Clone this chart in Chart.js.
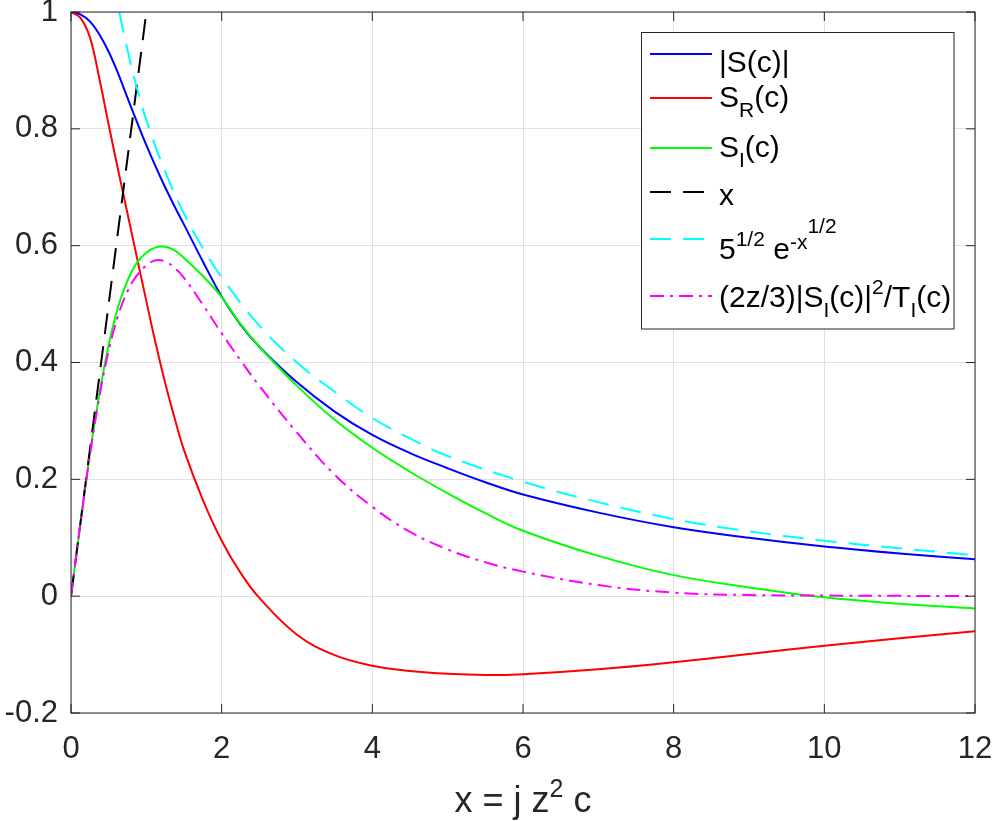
<!DOCTYPE html>
<html>
<head>
<meta charset="utf-8">
<script src="https://cdn.jsdelivr.net/npm/chart.js@4.4.1/dist/chart.umd.min.js"></script>
<style>
  html, body { margin: 0; padding: 0; background: #fff; }
  canvas { display: block; }
</style>
</head>
<body>
<canvas id="chartS" width="994" height="821"></canvas>
<script>
// values
const xs = [0, 0.125, 0.25, 0.375, 0.5, 0.625, 0.75, 0.875, 1, 1.125, 1.25, 1.375, 1.5, 1.75, 2, 2.25, 2.5, 3, 3.5, 4, 4.5, 5, 5.5, 6, 7, 8, 9, 10, 11, 12];
const absS = [1.0, 0.996, 0.984, 0.962, 0.932, 0.895, 0.853, 0.812, 0.772, 0.735, 0.700, 0.667, 0.636, 0.573, 0.513, 0.465, 0.427, 0.366, 0.316, 0.276, 0.245, 0.219, 0.195, 0.174, 0.143, 0.118, 0.100, 0.085, 0.073, 0.063];
const sR = [1.0, 0.99, 0.957, 0.887, 0.807, 0.73, 0.655, 0.58, 0.505, 0.432, 0.365, 0.305, 0.250, 0.165, 0.095, 0.040, -0.003, -0.066, -0.101, -0.119, -0.128, -0.133, -0.135, -0.1335, -0.125, -0.113, -0.099, -0.085, -0.072, -0.060];
const sI = [0, 0.124, 0.243, 0.345, 0.43, 0.495, 0.54, 0.571, 0.588, 0.597, 0.598, 0.592, 0.579, 0.548, 0.512, 0.466, 0.427, 0.36, 0.302, 0.254, 0.213, 0.176, 0.142, 0.112, 0.069, 0.036, 0.015, -0.002, -0.013, -0.021];
const ratio = [0, 0.124, 0.24, 0.34, 0.42, 0.48, 0.522, 0.549, 0.566, 0.575, 0.573, 0.562, 0.545, 0.499, 0.45, 0.404, 0.36, 0.28, 0.208, 0.153, 0.11, 0.080, 0.058, 0.042, 0.019, 0.006, 0.002, 0.001, 0.0005, 0.0005];
const lineX = [0, 1];
const lineY = [0, 1];
const asymX = [0.64, 0.75, 0.875, 1, 1.25, 1.5, 1.75, 2, 2.5, 3, 3.5, 4, 4.5, 5, 6, 7, 8, 9, 10, 11, 12];
const asymY = [1.0, 0.935, 0.87, 0.815, 0.727, 0.655, 0.596, 0.546, 0.463, 0.40, 0.35, 0.305, 0.27, 0.24, 0.196, 0.161, 0.132, 0.111, 0.095, 0.082, 0.070];

const xTicks = [0, 2, 4, 6, 8, 10, 12];
const yTicks = [-0.2, 0, 0.2, 0.4, 0.6, 0.8, 1];

const FONT = '"Liberation Sans", Helvetica, Arial, sans-serif';
const AX = '#262626';

function pts(x, y) { return x.map((v, i) => ({ x: v, y: y[i] })); }

// legend rows: segments [text, dy, size]
const legendRows = [
  { color: '#0000ff', dash: [], line: 54, base: 72, segs: [['|S(c)|', 0, 30]] },
  { color: '#ff0000', dash: [], line: 98, base: 107, segs: [['S', 0, 30], ['R', 10, 21], ['(c)', 0, 30]] },
  { color: '#00ff00', dash: [], line: 148, base: 157, segs: [['S', 0, 30], ['I', 10, 21], ['(c)', 0, 30]] },
  { color: '#000000', dash: [21, 12], line: 192, base: 205, segs: [['x', 0, 30]] },
  { color: '#00ffff', dash: [21, 12], line: 239, base: 259, segs: [['5', 0, 30], ['1/2', -13, 21], [' e', 0, 30], ['-x', -10, 21], ['1/2', -26, 21]] },
  { color: '#ff00ff', dash: [14, 6, 3, 6], line: 296, base: 307, segs: [['(2z/3)|S', 0, 30], ['I', 10, 21], ['(c)|', 0, 30], ['2', -13, 21], ['/T', 0, 30], ['I', 10, 21], ['(c)', 0, 30]] }
];
const xTitle = [['x = j z', 0, 36], ['2', -15, 25], [' c', 0, 36]];

function richWidth(ctx, segs) {
  let w = 0;
  segs.forEach(s => { ctx.font = s[2] + 'px ' + FONT; w += ctx.measureText(s[0]).width; });
  return w;
}
function drawRich(ctx, segs, x, base) {
  ctx.textAlign = 'left';
  ctx.textBaseline = 'alphabetic';
  segs.forEach(s => {
    ctx.font = s[2] + 'px ' + FONT;
    ctx.fillText(s[0], x, base + s[1]);
    x += ctx.measureText(s[0]).width;
  });
}

const decor = {
  id: 'decor',
  afterDatasetsDraw(chart) {
    const { ctx, chartArea: a, scales } = chart;
    ctx.save();
    ctx.strokeStyle = AX;
    ctx.lineWidth = 1;
    ctx.strokeRect(a.left, a.top, a.right - a.left, a.bottom - a.top);
    ctx.beginPath();
    xTicks.forEach(v => {
      const p = scales.x.getPixelForValue(v);
      ctx.moveTo(p, a.bottom); ctx.lineTo(p, a.bottom - 9);
      ctx.moveTo(p, a.top); ctx.lineTo(p, a.top + 9);
    });
    yTicks.forEach(v => {
      const p = scales.y.getPixelForValue(v);
      ctx.moveTo(a.left, p); ctx.lineTo(a.left + 9, p);
      ctx.moveTo(a.right, p); ctx.lineTo(a.right - 9, p);
    });
    ctx.stroke();
    ctx.restore();
  },
  afterDraw(chart) {
    const { ctx, chartArea: a } = chart;
    ctx.save();
    // legend box
    ctx.fillStyle = '#fff';
    ctx.fillRect(641.5, 32.5, 312.5, 296.5);
    ctx.strokeStyle = AX;
    ctx.lineWidth = 1;
    ctx.strokeRect(641.5, 32.5, 312.5, 296.5);
    legendRows.forEach(r => {
      ctx.strokeStyle = r.color;
      ctx.lineWidth = 2;
      ctx.setLineDash(r.dash);
      ctx.beginPath();
      ctx.moveTo(650, r.line);
      ctx.lineTo(712, r.line);
      ctx.stroke();
      ctx.setLineDash([]);
      ctx.fillStyle = '#000';
      drawRich(ctx, r.segs, 719, r.base);
    });
    // x axis title
    ctx.fillStyle = AX;
    const w = richWidth(ctx, xTitle);
    drawRich(ctx, xTitle, (a.left + a.right) / 2 - w / 2, 812);
    ctx.restore();
  }
};

function ds(data, color, dash, order) {
  return {
    data: data, borderColor: color, backgroundColor: color, borderWidth: 2,
    borderDash: dash, pointRadius: 0, fill: false, order: order,
    tension: 0.4
  };
}

new Chart(document.getElementById('chartS'), {
  type: 'line',
  data: {
    datasets: [
      ds(pts(xs, absS), '#0000ff', [], 6),
      ds(pts(xs, sR), '#ff0000', [], 5),
      ds(pts(xs, sI), '#00ff00', [], 4),
      ds(pts(lineX, lineY), '#000000', [21, 12], 3),
      ds(pts(asymX, asymY), '#00ffff', [21, 12], 2),
      ds(pts(xs, ratio), '#ff00ff', [14, 6, 3, 6], 1)
    ]
  },
  options: {
    responsive: false,
    animation: false,
    devicePixelRatio: 1,
    layout: { padding: { top: 12, right: 19, left: 0, bottom: 0 } },
    plugins: { legend: { display: false }, tooltip: { enabled: false } },
    scales: {
      x: {
        type: 'linear', min: 0, max: 12,
        afterFit: s => { s.height = 108; s.paddingLeft = 0; s.paddingRight = 0; },
        afterBuildTicks: s => { s.ticks = xTicks.map(v => ({ value: v })); },
        grid: { color: '#e0e0e0', drawTicks: false },
        border: { display: false },
        ticks: { color: AX, padding: 18, maxRotation: 0, font: { family: FONT, size: 31 },
          callback: v => String(v) }
      },
      y: {
        type: 'linear', min: -0.2, max: 1,
        afterFit: s => { s.width = 71; s.paddingTop = 0; s.paddingBottom = 0; },
        afterBuildTicks: s => { s.ticks = yTicks.map(v => ({ value: v })); },
        grid: { color: '#e0e0e0', drawTicks: false },
        border: { display: false },
        ticks: { color: AX, padding: 13, font: { family: FONT, size: 31 },
          callback: v => String(Number(v.toFixed(1))) }
      }
    }
  },
  plugins: [decor]
});
</script>
</body>
</html>
